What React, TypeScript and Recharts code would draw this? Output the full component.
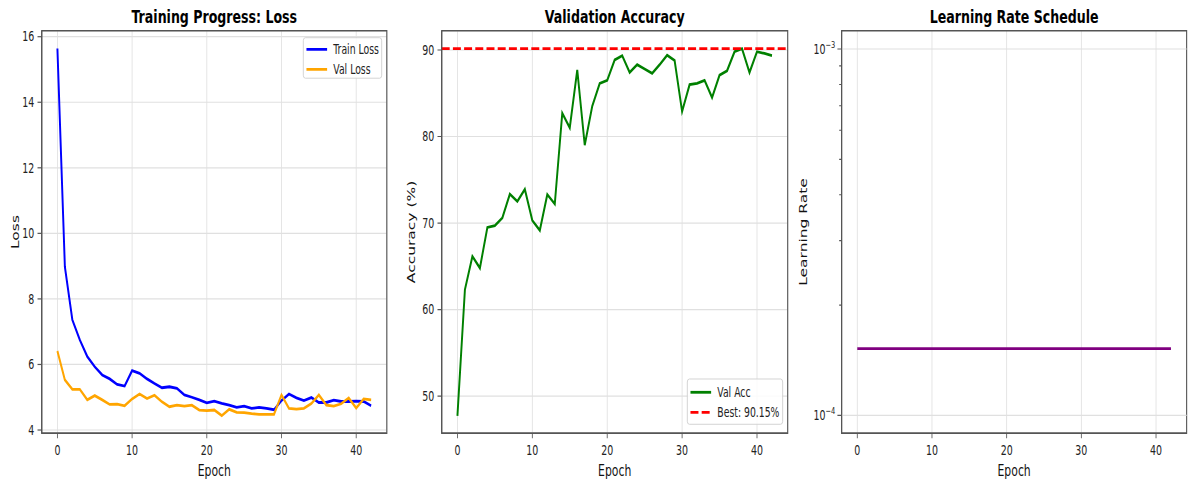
import React from "react";
import {
  LineChart,
  Line,
  XAxis,
  YAxis,
  CartesianGrid,
  ReferenceLine,
  ReferenceArea,
  Label,
} from "recharts";

// ---------- data ----------
const epochs = [
  0, 1, 2, 3, 4, 5, 6, 7, 8, 9, 10, 11, 12, 13, 14, 15, 16, 17, 18, 19, 20, 21,
  22, 23, 24, 25, 26, 27, 28, 29, 30, 31, 32, 33, 34, 35, 36, 37, 38, 39, 40,
  41, 42,
];
const trainLoss = [
  15.64, 8.98, 7.36, 6.75, 6.24, 5.93, 5.68, 5.56, 5.39, 5.34, 5.81, 5.73, 5.56,
  5.42, 5.29, 5.32, 5.27, 5.07, 5.0, 4.92, 4.83, 4.88, 4.81, 4.76, 4.69, 4.73,
  4.66, 4.69, 4.66, 4.62, 4.9, 5.1, 4.98, 4.9, 4.99, 4.84, 4.84, 4.91, 4.87,
  4.87, 4.88, 4.87, 4.74,
];
const valLoss = [
  6.41, 5.53, 5.24, 5.24, 4.92, 5.05, 4.92, 4.78, 4.79, 4.74, 4.95, 5.1, 4.96,
  5.06, 4.86, 4.71, 4.76, 4.73, 4.76, 4.61, 4.59, 4.61, 4.44, 4.63, 4.54, 4.53,
  4.5, 4.48, 4.48, 4.48, 5.07, 4.66, 4.64, 4.66, 4.81, 5.07, 4.76, 4.73, 4.8,
  4.98, 4.67, 4.95, 4.92,
];
const valAcc = [
  47.7, 62.3, 66.15, 64.8, 69.5, 69.7, 70.6, 73.35, 72.5, 73.9, 70.3, 69.15,
  73.3, 72.2, 82.7, 81.0, 87.7, 79.0, 83.5, 86.15, 86.5, 88.85, 89.35, 87.4,
  88.3, 87.8, 87.3, 88.3, 89.4, 88.8, 82.9, 86.0, 86.15, 86.5, 84.5, 87.1, 87.6,
  89.8, 90.15, 87.4, 89.8, 89.6, 89.35,
];
const learningRate = [
  1.52e-4, 1.52e-4, 1.52e-4, 1.52e-4, 1.52e-4, 1.52e-4, 1.52e-4, 1.52e-4,
  1.52e-4, 1.52e-4, 1.52e-4, 1.52e-4, 1.52e-4, 1.52e-4, 1.52e-4, 1.52e-4,
  1.52e-4, 1.52e-4, 1.52e-4, 1.52e-4, 1.52e-4, 1.52e-4, 1.52e-4, 1.52e-4,
  1.52e-4, 1.52e-4, 1.52e-4, 1.52e-4, 1.52e-4, 1.52e-4, 1.52e-4, 1.52e-4,
  1.52e-4, 1.52e-4, 1.52e-4, 1.52e-4, 1.52e-4, 1.52e-4, 1.52e-4, 1.52e-4,
  1.52e-4, 1.52e-4, 1.52e-4,
];
const bestAcc = 90.15;

const xTicks = [0, 10, 20, 30, 40];
const lossTicks = [4, 6, 8, 10, 12, 14, 16];
const accTicks = [50, 60, 70, 80, 90];
const lrTicks = [1e-4, 2e-4, 3e-4, 4e-4, 5e-4, 6e-4, 7e-4, 8e-4, 9e-4, 1e-3];
const lrMajor = [1e-4, 1e-3];

const lossData = epochs.map((e, i) => ({ epoch: e, train: trainLoss[i], val: valLoss[i] }));
const accData = epochs.map((e, i) => ({ epoch: e, acc: valAcc[i] }));
const lrData = epochs.map((e, i) => ({ epoch: e, lr: learningRate[i] }));

// ---------- styling ----------
const SX = 0.7;
const W = 1188 / SX;
const H = 481;
const FONT = "DejaVu Sans, Verdana, sans-serif";
const SPINE = "#555555";
const GRID = "#e0e0e0";
const TICK_FS = 13.5;
const LABEL_FS = 15.5;
const TITLE_FS = 18;
const LEG_FS = 13.3;
const LW = 2.8;
const X_DOMAIN: [number, number] = [-2.1, 44.1];
const LOSS_DOMAIN: [number, number] = [3.9, 16.183];
const ACC_DOMAIN: [number, number] = [45.7, 92.23];
const LR_DOMAIN: [number, number] = [8.93e-5, 1.122e-3];
const TOP = 30.7;
const XAXIS_H = 47.7;

const tickStyle = { fontSize: TICK_FS, fill: "#222", fontFamily: FONT };

const textEl =
  (x: number, y: number, s: string, extra: any = {}) =>
  () =>
    (
      <text x={x} y={y} textAnchor="middle" fontFamily={FONT} fill="#111" {...extra}>
        {s}
      </text>
    );

const ylabelEl = (x: number, y: number, s: string) => () =>
  (
    <text
      x={x}
      y={y}
      textAnchor="middle"
      fontFamily={FONT}
      fontSize={LABEL_FS}
      fill="#111"
      transform={`rotate(-90, ${x}, ${y})`}
    >
      {s}
    </text>
  );

type LegendItem = { label: string; color: string; dash?: string };
const legendEl =
  (x: number, y: number, w: number, h: number, rows: number[], items: LegendItem[]) =>
  () =>
    (
      <g>
        <rect
          x={x}
          y={y}
          width={w}
          height={h}
          rx={3}
          fill="#ffffff"
          fillOpacity={0.85}
          stroke="#cccccc"
          strokeWidth={1}
        />
        {items.map((it, i) => (
          <g key={it.label}>
            <line
              x1={x + 4.5}
              x2={x + 34}
              y1={y + rows[i]}
              y2={y + rows[i]}
              stroke={it.color}
              strokeWidth={LW}
              strokeDasharray={it.dash}
            />
            <text
              x={x + 42.8}
              y={y + rows[i]}
              dy="0.36em"
              fontFamily={FONT}
              fontSize={LEG_FS}
              fill="#222"
            >
              {it.label}
            </text>
          </g>
        ))}
      </g>
    );

const LR_TICK_SIZE = 6;
const LR_TICK_MARGIN = 3;
const LogTick = (props: any) => {
  const { x, y, payload } = props;
  const v = payload.value as number;
  const axisX = x + LR_TICK_SIZE + LR_TICK_MARGIN;
  const isMajor = lrMajor.some((m) => Math.abs(m - v) / m < 1e-6);
  const exp = Math.round(Math.log10(v));
  return (
    <g>
      <line
        x1={axisX - (isMajor ? 6 : 3.5)}
        x2={axisX}
        y1={y}
        y2={y}
        stroke={SPINE}
        strokeWidth={1.2}
      />
      {isMajor && (
        <text x={x} y={y} dy="0.36em" textAnchor="end" fontFamily={FONT} fontSize={TICK_FS} fill="#222">
          10
          <tspan dy={-6} fontSize={9.5}>
            {"\u2212" + String(-exp)}
          </tspan>
        </text>
      )}
    </g>
  );
};

const PANEL_W = W / 3;

export default function App() {
  const axisLine = { stroke: SPINE, strokeWidth: 1.6 };
  const tickLine = { stroke: SPINE, strokeWidth: 1.2 };

  const p1Left = 59.6;
  const p1Right = 13.1;
  const p1Center = (p1Left + (PANEL_W - p1Right)) / 2;
  const p2Left = 65;
  const p2Right = PANEL_W - 559.3;
  const p2Center = (p2Left + (PANEL_W - p2Right)) / 2;
  const p3Left = 71.3;
  const p3Right = 1.5;
  const p3Center = (p3Left + (PANEL_W - p3Right)) / 2;

  const bottomX = (cx: number, title: string, legend?: () => React.ReactElement) => (
    <XAxis
      dataKey="epoch"
      type="number"
      domain={X_DOMAIN}
      allowDataOverflow
      ticks={xTicks}
      interval={0}
      height={XAXIS_H}
      tickSize={5}
      tickMargin={7}
      tick={tickStyle}
      tickLine={tickLine}
      axisLine={axisLine}
    >
      <Label content={textEl(cx, 476.5, "Epoch", { fontSize: LABEL_FS })} />
      <Label
        content={textEl(cx, 22.7, title, { fontSize: TITLE_FS, fontWeight: "bold", fill: "#000" })}
      />
      {legend ? <Label content={legend} /> : null}
    </XAxis>
  );

  const frame = (y1: number, y2: number) => (
    <ReferenceArea
      x1={X_DOMAIN[0]}
      x2={X_DOMAIN[1]}
      y1={y1}
      y2={y2}
      fill="none"
      fillOpacity={0}
      stroke={SPINE}
      strokeWidth={1.6}
      ifOverflow="visible"
    />
  );

  return (
    <div
      style={{
        position: "absolute",
        left: 0,
        top: 0,
        width: 1188,
        height: H,
        overflow: "hidden",
        background: "#ffffff",
      }}
    >
      <div
        style={{
          width: W,
          height: H,
          transform: `scaleX(${SX})`,
          transformOrigin: "0 0",
          display: "flex",
          background: "#ffffff",
        }}
      >
        {/* Panel 1: Loss */}
        <div style={{ width: PANEL_W, height: H, position: "relative" }}>
          <LineChart
            width={PANEL_W}
            height={H}
            data={lossData}
            margin={{ top: TOP, right: p1Right, bottom: 0, left: 0 }}
          >
            <CartesianGrid stroke={GRID} strokeWidth={1.2} />
            {bottomX(
              p1Center,
              "Training Progress: Loss",
              legendEl(433.3, 37.7, 112, 40.5, [11.6, 31.6], [
                { label: "Train Loss", color: "#0000ff" },
                { label: "Val Loss", color: "#ffa500" },
              ])
            )}
            <YAxis
              type="number"
              domain={LOSS_DOMAIN}
              allowDataOverflow
              ticks={lossTicks}
              interval={0}
              width={p1Left}
              tickSize={6}
              tickMargin={4.5}
              tick={tickStyle}
              tickLine={tickLine}
              axisLine={axisLine}
            >
              <Label content={ylabelEl(27.1, 232, "Loss")} />
            </YAxis>
            {frame(LOSS_DOMAIN[0], LOSS_DOMAIN[1])}
            <Line
              dataKey="train"
              stroke="#0000ff"
              strokeWidth={LW}
              dot={false}
              activeDot={false}
              isAnimationActive={false}
            />
            <Line
              dataKey="val"
              stroke="#ffa500"
              strokeWidth={LW}
              dot={false}
              activeDot={false}
              isAnimationActive={false}
            />
          </LineChart>
        </div>

        {/* Panel 2: Accuracy */}
        <div style={{ width: PANEL_W, height: H, position: "relative" }}>
          <LineChart
            width={PANEL_W}
            height={H}
            data={accData}
            margin={{ top: TOP, right: p2Right, bottom: 0, left: 0 }}
          >
            <CartesianGrid stroke={GRID} strokeWidth={1.2} />
            {bottomX(
              p2Center,
              "Validation Accuracy",
              legendEl(415.9, 379, 136.2, 45.3, [13.3, 33.3], [
                { label: "Val Acc", color: "#008000" },
                { label: `Best: ${bestAcc.toFixed(2)}%`, color: "#ff0000", dash: "11.4 4.6" },
              ])
            )}
            <YAxis
              type="number"
              domain={ACC_DOMAIN}
              allowDataOverflow
              ticks={accTicks}
              interval={0}
              width={p2Left}
              tickSize={6}
              tickMargin={4.5}
              tick={tickStyle}
              tickLine={tickLine}
              axisLine={axisLine}
            >
              <Label content={ylabelEl(26.7, 232, "Accuracy (%)")} />
            </YAxis>
            {frame(ACC_DOMAIN[0], ACC_DOMAIN[1])}
            <Line
              dataKey="acc"
              stroke="#008000"
              strokeWidth={LW}
              dot={false}
              activeDot={false}
              isAnimationActive={false}
            />
            <ReferenceLine y={bestAcc} stroke="#ff0000" strokeWidth={LW} strokeDasharray="11.4 4.6" />
          </LineChart>
        </div>

        {/* Panel 3: Learning rate */}
        <div style={{ width: PANEL_W, height: H, position: "relative" }}>
          <LineChart
            width={PANEL_W}
            height={H}
            data={lrData}
            margin={{ top: TOP, right: p3Right, bottom: 0, left: 0 }}
          >
            <CartesianGrid stroke={GRID} strokeWidth={1.2} horizontal={false} />
            {bottomX(p3Center, "Learning Rate Schedule")}
            <YAxis
              type="number"
              scale="log"
              domain={LR_DOMAIN}
              allowDataOverflow
              ticks={lrTicks}
              interval={0}
              width={p3Left}
              tickSize={LR_TICK_SIZE}
              tickMargin={LR_TICK_MARGIN}
              tick={<LogTick />}
              tickLine={false}
              axisLine={axisLine}
            >
              <Label content={ylabelEl(22, 232, "Learning Rate")} />
            </YAxis>
            {lrMajor.map((m) => (
              <ReferenceLine key={m} y={m} stroke={GRID} strokeWidth={1.2} />
            ))}
            {frame(LR_DOMAIN[0], LR_DOMAIN[1])}
            <Line
              dataKey="lr"
              stroke="#800080"
              strokeWidth={LW}
              dot={false}
              activeDot={false}
              isAnimationActive={false}
            />
          </LineChart>
        </div>
      </div>
    </div>
  );
}
